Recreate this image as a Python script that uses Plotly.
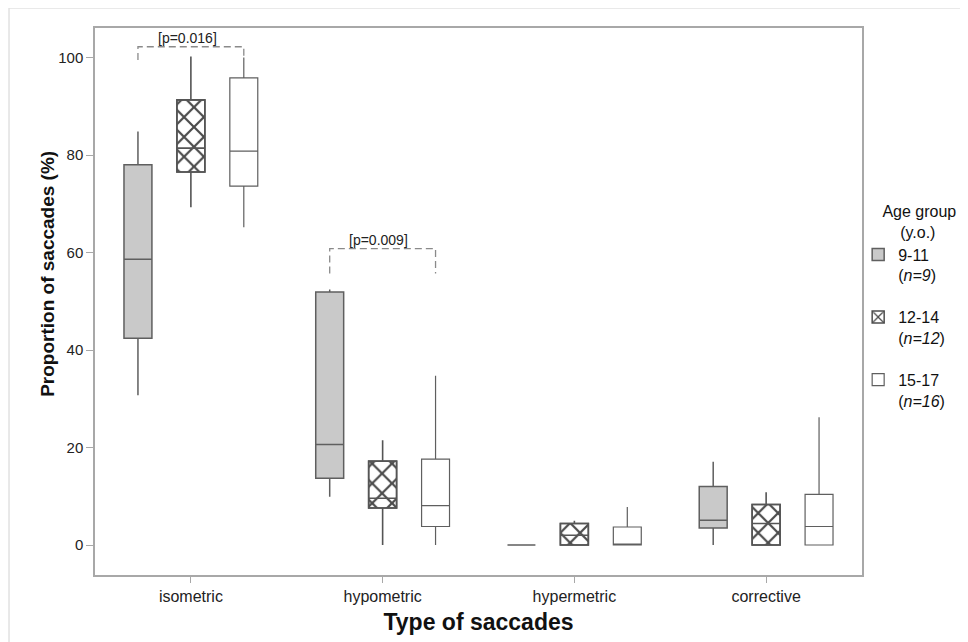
import plotly.graph_objects as go

# ---------------- data ----------------
categories = ["isometric", "hypometric", "hypermetric", "corrective"]
groups = ["9-11", "12-14", "15-17"]
group_n = [9, 12, 16]

# five-number summaries per group, one value per category
g1_low = [30.7, 9.9, 0.0, 0.0]
g1_q1 = [42.4, 13.7, 0.0, 3.5]
g1_med = [58.6, 20.6, 0.0, 5.1]
g1_q3 = [78.0, 51.9, 0.0, 12.0]
g1_high = [84.8, 52.4, 0.0, 17.1]

g2_low = [69.3, 0.0, 0.0, 0.0]
g2_q1 = [76.5, 7.6, 0.0, 0.0]
g2_med = [81.4, 9.6, 2.0, 4.4]
g2_q3 = [91.3, 17.2, 4.4, 8.3]
g2_high = [100.2, 21.5, 5.0, 10.8]

g3_low = [65.2, 0.0, 0.0, 0.0]
g3_q1 = [73.6, 3.8, 0.0, 0.0]
g3_med = [80.8, 8.1, 0.0, 3.8]
g3_q3 = [95.8, 17.6, 3.7, 10.4]
g3_high = [100.0, 34.7, 7.8, 26.2]

# significance brackets: category index, label, bracket top, leg bottom
sig_cat = [0, 1]
sig_label = ["[p=0.016]", "[p=0.009]"]
sig_top = [102.2, 60.8]
sig_bottom = [99.5, 55.7]

# ---------------- styling ----------------
FONT = "Liberation Sans, Arial, sans-serif"
LINE = "#5f5f5f"
BOXGAP = 0.172
BOXGROUPGAP = 0.472
slot = (1 - BOXGAP) / 3            # distance between group centres (category units)
box_w = slot * (1 - BOXGROUPGAP)   # full box width (category units)

fig = go.Figure()


def add_box(name, key, low, q1, med, q3, high, fill, showlegend=True, lw=1.3,
            color=LINE):
    fig.add_trace(go.Box(
        x=categories, lowerfence=low, q1=q1, median=med, q3=q3, upperfence=high,
        name=name, fillcolor=fill, line=dict(color=color, width=lw),
        whiskerwidth=0, boxpoints=False, showlegend=showlegend,
        legendgroup=key, offsetgroup=key, alignmentgroup="all",
        hoverinfo="skip",
    ))


labels = [f"{g}<br>(<i>n={n}</i>)" for g, n in zip(groups, group_n)]

add_box(labels[0], "g1", g1_low, g1_q1, g1_med, g1_q3, g1_high, "#c9c9c9", lw=1.5)

# cross-hatched fill for the middle group, drawn beneath its box outline
fig.add_trace(go.Bar(
    x=categories, base=g2_q1, y=[b - a for a, b in zip(g2_q1, g2_q3)],
    width=box_w, offset=-box_w / 2,
    marker=dict(color="white", line=dict(color="#4d4d4d", width=1.5),
                pattern=dict(shape="x", fgcolor="#4a4a4a", bgcolor="white",
                             fgopacity=1, size=14, solidity=0.29)),
    name=labels[1], legendgroup="g2", hoverinfo="skip",
))
add_box(labels[1], "g2", g2_low, g2_q1, g2_med, g2_q3, g2_high, "rgba(0,0,0,0)",
        showlegend=False, lw=1.6, color="#555555")

add_box(labels[2], "g3", g3_low, g3_q1, g3_med, g3_q3, g3_high, "white", lw=1.2)

# significance brackets
for ci, lab, top, bot in zip(sig_cat, sig_label, sig_top, sig_bottom):
    xa, xb = ci - slot, ci + slot
    fig.add_shape(type="path", xref="x", yref="y",
                  path=f"M {xa},{bot} L {xa},{top} L {xb},{top} L {xb},{bot}",
                  line=dict(color="#8a8a8a", width=1.3, dash="7px,4px"))
    fig.add_annotation(x=ci - 0.02, y=top, xref="x", yref="y", text=lab,
                       showarrow=False, yanchor="bottom", yshift=-1,
                       font=dict(family=FONT, size=14, color="#222"))

# outer light frame
fig.add_shape(type="rect", xref="paper", yref="paper",
              x0=-0.1121, x1=1.1356, y0=-0.25, y1=1.0366,
              line=dict(color="#e2e2e2", width=1.5), layer="below")

# y-axis title (placed as in the reference)
fig.add_annotation(x=-0.063, y=0.55, xref="paper", yref="paper",
                   text="<b>Proportion of saccades (%)</b>", textangle=-90,
                   showarrow=False, xanchor="center", yanchor="middle",
                   font=dict(family=FONT, size=19, color="#111"))

NB = "&nbsp;"
fig.update_layout(
    width=968, height=642,
    margin=dict(l=87, r=114, t=20, b=75),
    paper_bgcolor="white", plot_bgcolor="white",
    boxmode="group", boxgap=BOXGAP, boxgroupgap=BOXGROUPGAP,
    barmode="overlay",
    font=dict(family=FONT, color="#222"),
    legend=dict(
        x=0.995, xanchor="left", y=0.693, yanchor="top",
        title=dict(text=NB * 5 + "Age group<br>" + NB * 9 + "(y.o.)",
                   side="top",
                   font=dict(family=FONT, size=16, color="#111")),
        font=dict(family=FONT, size=16, color="#111"),
        traceorder="grouped", tracegroupgap=18, valign="top",
        itemwidth=30, bgcolor="rgba(0,0,0,0)",
    ),
    xaxis=dict(
        type="category", categoryorder="array", categoryarray=categories,
        range=[-0.5, 3.5], showline=True, mirror=True, linecolor="#a8a8a8",
        linewidth=1.5, ticks="outside", ticklen=6, tickcolor="#a8a8a8",
        tickfont=dict(family=FONT, size=16, color="#222"), showgrid=False,
        title=dict(text="<b>Type of saccades</b>", standoff=10,
                   font=dict(family=FONT, size=23, color="#111")),
    ),
    yaxis=dict(
        range=[-6.15, 106.05], tickvals=[0, 20, 40, 60, 80, 100],
        showline=True, mirror=True, linecolor="#a8a8a8", linewidth=1.5,
        ticks="outside", ticklen=7, tickcolor="#a8a8a8",
        tickfont=dict(family=FONT, size=15, color="#222"),
        showgrid=False, zeroline=False,
    ),
)

fig.write_html("out.html")
